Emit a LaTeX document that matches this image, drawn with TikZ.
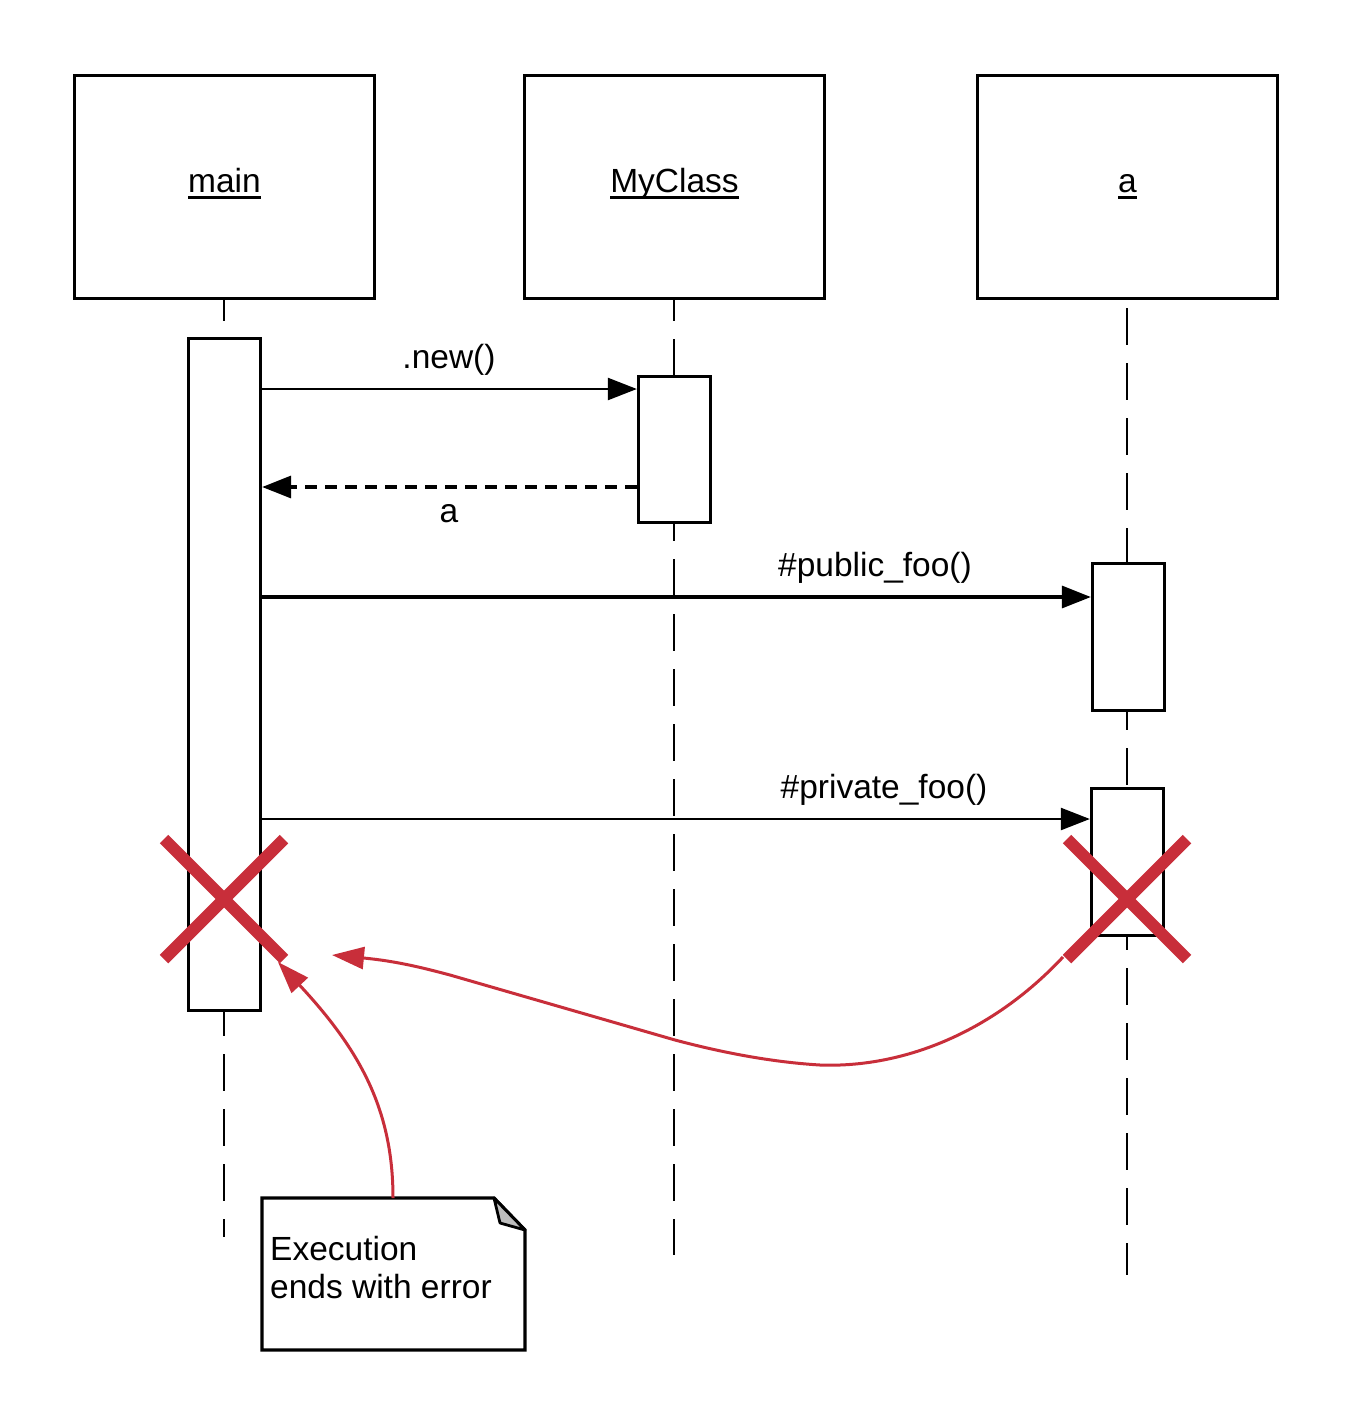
\documentclass[tikz,border=0pt]{standalone}
\usepackage{fontspec}
\setmainfont{Liberation Sans}
\usetikzlibrary{arrows.meta,calc}
\definecolor{xred}{RGB}{200,46,58}
\definecolor{foldgray}{RGB}{190,190,190}
\newcommand\myul[1]{\setbox0\hbox{#1}\rlap{\usebox0}\rule[-6.5pt]{\wd0}{3pt}}
\begin{document}
\begin{tikzpicture}[x=1pt,y=-1pt,
  every node/.style={font=\fontsize{33.5pt}{38pt}\selectfont},
  hdr/.style={draw,line width=3.3pt,minimum width=300pt,minimum height=223pt,inner sep=0pt},
  hdrtext/.style={anchor=base,inner sep=0pt},
  act/.style={draw,fill=white,line width=3.3pt,minimum width=72pt,inner sep=0pt},
  life/.style={line width=2.4pt,dash pattern=on 37pt off 18pt},
  msg/.style={line width=2.4pt,-{Triangle[length=29pt,width=22pt]}},
  msgthick/.style={line width=3.3pt,-{Triangle[length=29pt,width=22pt]}},
  ret/.style={line width=3.3pt,dash pattern=on 12pt off 8pt,-{Triangle[length=29pt,width=22pt]}},
  lbl/.style={anchor=base,inner sep=0pt},
  xline/.style={draw=xred,line width=12pt},
  redarrow/.style={draw=xred,line width=3pt,-{Triangle[length=32pt,width=22pt]}}
]
\useasboundingbox (0,0) rectangle (1354,1425);
\fill[white] (0,0) rectangle (1354,1425);

% header boxes
\node[hdr] (hmain) at (224.5,187) {};
\node[hdr] (hmyc) at (674.5,187) {};
\node[hdr] (ha) at (1127.5,187) {};
\node[hdrtext] (tmain) at (224.5,192) {\myul{main}};
\node[hdrtext] (tmyc) at (674.5,192) {\myul{MyClass}};
\node[hdrtext] (ta) at (1127.5,192) {\myul{a}};

% lifeline ends
\coordinate (emain) at (224,1237);
\coordinate (emyc) at (674,1255);
\coordinate (ea) at (1127,1275);
\draw[life,dash phase=16pt] (hmain.south -| emain) -- (emain);
\draw[life,dash phase=16pt] (hmyc.south -| emyc) -- (emyc);
\draw[life,dash phase=47pt] (ha.south -| ea) -- (ea);

% activation boxes
\node[act,minimum height=672pt] (amain) at (224.5,674.5) {};
\node[act,minimum height=146pt] (amyc) at (674.5,449.5) {};
\node[act,minimum height=147pt] (aa1) at (1128.5,637) {};
\node[act,minimum height=147pt] (aa2) at (1127.5,862) {};

% messages
\coordinate (y1) at (0,389);
\coordinate (y2) at (0,487);
\coordinate (y3) at (0,597);
\coordinate (y4) at (0,819);
\draw[msg] (amain.east |- y1) -- (amyc.west |- y1);
\draw[ret] (amyc.west |- y2) -- (amain.east |- y2);
\draw[msgthick] (amain.east |- y3) -- (aa1.west |- y3);
\draw[msg] (amain.east |- y4) -- (aa2.west |- y4);
\node[lbl] (lnew) at (449,368) {.new()};
\node[lbl] (lret) at (449,522) {a};
\node[lbl] (lpub) at (875,576) {\#public\_foo()};
\node[lbl] (lpriv) at (884,798) {\#private\_foo()};

% destruction marks
\coordinate (xm) at (224,899);
\coordinate (xa) at (1127,899);
\draw[xline] ($(xm)+(-60,-60)$) -- ($(xm)+(60,60)$);
\draw[xline] ($(xm)+(-60,60)$) -- ($(xm)+(60,-60)$);
\draw[xline] ($(xa)+(-60,-60)$) -- ($(xa)+(60,60)$);
\draw[xline] ($(xa)+(-60,60)$) -- ($(xa)+(60,-60)$);

% note
\coordinate (nw) at (262,1198);
\draw[line width=3.3pt,fill=white,line join=miter] (nw) -- (494,1198) -- (525,1230) -- (525,1350) -- (262,1350) -- cycle;
\draw[line width=2.8pt,fill=foldgray,line join=round] (494,1198) -- (525,1230) -- (500,1223) -- cycle;
\node[anchor=base west,inner sep=0pt,align=left] (note) at (270,1298) {Execution\\ends with error};

% red curved arrows
\coordinate (r1s) at (1063,957);
\coordinate (r1e) at (332,955);
\draw[redarrow] (r1s) .. controls (990,1035) and (900,1068) .. (820,1065)
  .. controls (770,1062) and (720,1052) .. (675,1040) -- (450,975)
  .. controls (420,967) and (395,961) .. (r1e);
\coordinate (r2s) at (393,1198);
\coordinate (r2e) at (278,962);
\draw[redarrow] (r2s) .. controls (393,1110) and (360,1050) .. (r2e);
\end{tikzpicture}
\end{document}
